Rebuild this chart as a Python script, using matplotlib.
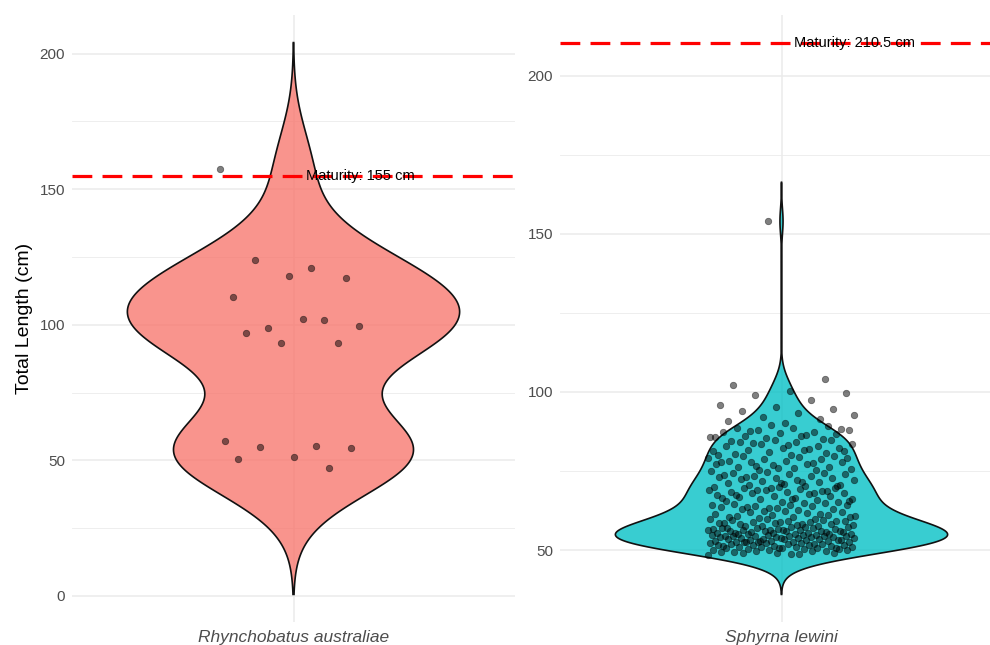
from __future__ import annotations

import matplotlib

matplotlib.use("Agg")
import matplotlib.pyplot as plt
import numpy as np
from matplotlib.colors import to_rgba

# Total lengths (cm) per species
RA_LENGTHS = [
    157.4, 120.8, 124.0, 117.3, 118.0, 110.3, 101.7, 98.9, 99.7, 102.3,
    96.8, 93.1, 93.2, 57.1, 55.1, 54.9, 54.5, 51.3, 50.3, 47.2,
]

SL_LENGTHS = [
    48.3, 48.8, 49.0, 49.2, 49.2, 49.5, 49.6, 49.7, 49.9, 48.6, 49.4, 49.8,
    50.0, 50.1, 50.3, 50.3, 50.4, 50.6, 50.7, 50.7, 50.9, 51.0, 51.1, 51.1,
    51.2, 51.4, 51.5, 51.5, 51.6, 51.7, 51.9, 52.0, 52.0, 52.1, 52.2, 52.3,
    52.4, 50.5, 50.8, 51.3, 51.8, 52.4,
    52.5, 52.6, 52.6, 52.8, 52.9, 53.0, 53.1, 53.1, 53.2, 53.4, 53.5, 53.5,
    53.6, 53.7, 53.8, 53.8, 54.0, 54.0, 54.1, 54.2, 54.3, 54.3, 54.5, 54.5,
    54.6, 54.7, 54.8, 54.9, 52.7, 53.3, 53.9, 54.4, 54.9, 53.0,
    55.0, 55.1, 55.1, 55.2, 55.4, 55.5, 55.5, 55.6, 55.8, 55.9, 56.0, 56.0,
    56.1, 56.3, 56.4, 56.5, 56.6, 56.8, 56.9, 57.0, 57.1, 57.2, 57.4, 55.3,
    55.7, 56.2, 56.7, 57.3, 55.0, 56.0, 56.5, 57.0,
    57.5, 57.7, 57.8, 58.0, 58.1, 58.3, 58.5, 58.6, 58.8, 59.0, 59.1, 59.3,
    59.4, 59.6, 59.8, 59.9, 58.2, 57.6, 59.2, 58.9, 58.4, 59.7,
    60.1, 60.3, 60.5, 60.8, 61.0, 61.2, 61.5, 61.6, 61.9, 62.0, 62.3, 60.6,
    61.3, 62.2, 60.9,
    62.6, 62.9, 63.1, 63.3, 63.6, 63.8, 64.0, 64.1, 64.4, 64.5, 64.8, 63.4,
    64.2, 64.9, 63.7,
    65.1, 65.3, 65.6, 65.8, 66.0, 66.3, 66.4, 66.8, 67.0, 67.2, 67.3, 67.7,
    67.9, 68.0, 68.3, 68.5, 68.6, 68.9, 69.0, 69.3, 69.5, 69.6, 69.9, 66.6,
    68.1, 69.1, 65.4, 66.1, 67.5, 68.7, 69.7,
    70.1, 70.2, 70.5, 70.7, 71.0, 71.1, 71.4, 71.8, 72.0, 72.1, 72.5, 72.7,
    72.8, 73.2, 73.3, 73.5, 73.9, 74.0, 74.3, 74.4, 74.8, 74.9, 71.6, 73.0,
    70.4, 71.3, 73.7,
    75.2, 75.4, 75.7, 75.8, 76.3, 76.4, 76.9, 77.1, 77.2, 77.7, 77.8, 78.2,
    78.3, 78.7, 78.8, 79.2, 79.5, 79.6, 79.9, 76.1, 78.0, 77.4, 76.6, 79.0,
    80.2, 80.3, 80.8, 81.1, 81.2, 81.7, 81.8, 82.3, 82.4, 82.9, 83.0, 83.5,
    83.6, 84.1, 84.2, 84.7, 84.8, 80.0, 82.1, 83.8, 81.4, 83.3, 84.5,
    85.0, 85.5, 85.6, 86.1, 86.2, 86.7, 86.9, 87.3, 87.4, 87.9, 88.0, 88.5,
    88.6, 89.1, 89.5, 85.8, 86.5, 87.6, 88.2,
    90.3, 90.9, 91.4, 92.1, 92.8, 93.5, 93.9, 94.7,
    95.2, 96.0, 97.4, 98.9, 99.6,
    100.4, 102.3, 104.0,
    154.0,
]

SPECIES = ["Rhynchobatus australiae", "Sphyrna lewini"]
MATURITY = [155.0, 210.5]
FILLS = ["#F8766D", "#00BFC4"]

plt.rcParams["font.family"] = ["Liberation Sans", "DejaVu Sans"]

GRID = "#EBEBEB"


def bw_nrd0(x: np.ndarray) -> float:
    sd = np.std(x, ddof=1)
    q1, q3 = np.percentile(x, [25, 75])
    lo = min(sd, (q3 - q1) / 1.34)
    return 0.9 * lo * len(x) ** -0.2


def violin_profile(x: np.ndarray, n: int = 512, cut: float = 3.0):
    bw = bw_nrd0(x)
    grid = np.linspace(x.min() - cut * bw, x.max() + cut * bw, n)
    z = (grid[:, None] - x[None, :]) / bw
    dens = np.exp(-0.5 * z**2).sum(axis=1) / (np.sqrt(2 * np.pi) * bw * len(x))
    return grid, dens


def draw_panel(ax, values, label, maturity, fill, show_ylabel):
    x = np.asarray(values, dtype=float)
    grid, dens = violin_profile(x)
    half = dens / dens.max() * 0.45

    # ticks first: set_yticks would otherwise widen the view limits
    ax.set_yticks(np.arange(0, 250, 50))
    ax.set_yticks(np.arange(25, 250, 50), minor=True)
    ax.set_xticks([1])
    ax.set_xticklabels([label], fontstyle="italic", fontsize=12.5, color="#4D4D4D")

    lo = min(grid.min(), maturity)
    hi = max(grid.max(), maturity)
    pad = (hi - lo) * 0.05
    ax.set_ylim(lo - pad, hi + pad)
    ax.set_xlim(0.4, 1.6)

    ax.tick_params(axis="y", which="both", length=0, labelsize=11, labelcolor="#4D4D4D", pad=5)
    ax.tick_params(axis="x", length=0, pad=6)
    ax.grid(which="major", color=GRID, linewidth=1.1, zorder=0)
    ax.grid(which="minor", axis="y", color=GRID, linewidth=0.6, zorder=0)
    ax.set_axisbelow(True)
    for side in ax.spines.values():
        side.set_visible(False)

    xs = np.r_[1 - half, (1 + half)[::-1]]
    ys = np.r_[grid, grid[::-1]]
    ax.fill(xs, ys, facecolor=to_rgba(fill, 0.78), edgecolor="#111111", linewidth=1.2, zorder=2)

    # evenly spread horizontal jitter, width 0.2 either side
    jitter = ((np.arange(len(x)) * 0.6180339887) % 1.0 - 0.5) * 0.4
    ax.scatter(1 + jitter, x, s=22, color="black", alpha=0.5, linewidths=0.5,
               edgecolors="black", zorder=3)

    ax.axhline(maturity, color="#FF0000", linewidth=2.3, linestyle=(0, (6.2, 3.2)), zorder=4)
    ax.text(1.033, maturity, f"Maturity: {maturity:g} cm", ha="left", va="center",
            fontsize=10.5, color="black", zorder=5)

    if show_ylabel:
        ax.set_ylabel("Total Length (cm)", fontsize=14, labelpad=5)


def main() -> None:
    fig = plt.figure(figsize=(9.9, 6.45), dpi=100)
    bottom = 23 / 645
    height = 607 / 645
    width = 443 / 990
    ax_left = fig.add_axes([72 / 990, bottom, width, height])
    ax_right = fig.add_axes([560 / 990, bottom, width, height])

    draw_panel(ax_left, RA_LENGTHS, SPECIES[0], MATURITY[0], FILLS[0], True)
    draw_panel(ax_right, SL_LENGTHS, SPECIES[1], MATURITY[1], FILLS[1], False)

    fig.savefig("out.png", dpi=100, facecolor="white")


if __name__ == "__main__":
    main()
